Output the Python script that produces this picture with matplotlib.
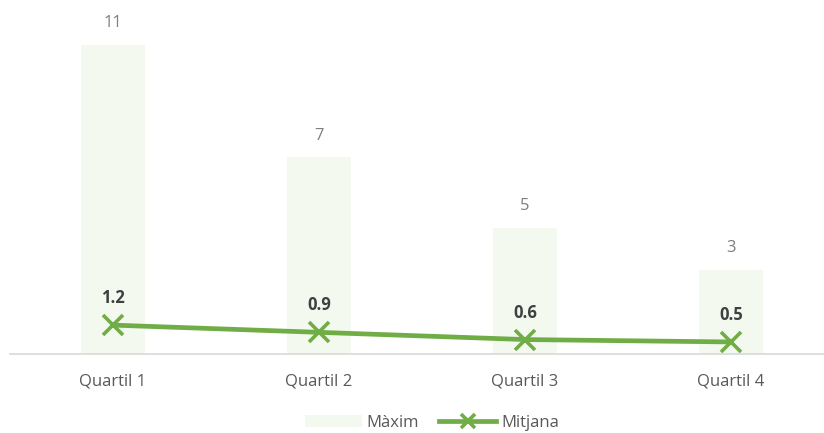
import numpy as np
import matplotlib.pyplot as plt
from matplotlib.lines import Line2D
from matplotlib.patches import Patch

plt.rcParams['font.family'] = ['Open Sans', 'DejaVu Sans']

categories = ['Quartil 1', 'Quartil 2', 'Quartil 3', 'Quartil 4']
maxim = [11, 7, 4.5, 3]
mitjana = [1.2, 0.9, 0.6, 0.5]

bar_color = '#F3F9EF'
line_color = '#70AD47'

fig = plt.figure(figsize=(8.24, 4.33), dpi=100)
ax = fig.add_axes([10 / 824, 79 / 433, 814 / 824, 337 / 433])
x = np.arange(len(categories))

ax.bar(x, maxim, width=0.315, color=bar_color, zorder=1)
for xi, v in zip(x, maxim):
    # labels shown with no decimals, rounding half up
    ax.annotate(str(int(v + 0.5)), (xi, v), xytext=(0, 10), textcoords='offset points',
                ha='center', va='bottom', fontsize=12, color='#7F7F7F')

ax.set_xlim(-0.5, -0.5 + 814 / 206)
ax.set_ylim(0, 12)
ax.set_yticks([])
ax.set_xticks(x)
ax.set_xticklabels(categories, fontsize=12, color='#595959')
ax.tick_params(axis='x', length=0, pad=14)
for s in ['top', 'right', 'left']:
    ax.spines[s].set_visible(False)
ax.spines['bottom'].set_color('#D9D9D9')
ax.spines['bottom'].set_linewidth(1.2)

ax2 = ax.twinx()
ax2.set_ylim(0, 14)
ax2.axis('off')
ax2.plot(x, mitjana, color=line_color, lw=3.4, marker='x', ms=14,
         mew=2.6, zorder=3, solid_capstyle='round')
for xi, v in zip(x, mitjana):
    ax2.annotate(f'{v:.1f}', (xi, v), xytext=(0, 13), textcoords='offset points',
                 ha='center', va='bottom', fontsize=12, fontweight='bold',
                 color='#404040')

handles = [Patch(facecolor=bar_color, edgecolor='none'),
           Line2D([], [], color=line_color, lw=3.4, marker='x', ms=10, mew=2.6)]
fig.legend(handles, ['Màxim', 'Mitjana'], loc='center', bbox_to_anchor=(432 / 824, 10 / 433),
           ncol=2, frameon=False, fontsize=12, handlelength=3.4,
           handletextpad=0.3, columnspacing=1.2, labelcolor='#595959')

fig.savefig('out.png', dpi=100)
